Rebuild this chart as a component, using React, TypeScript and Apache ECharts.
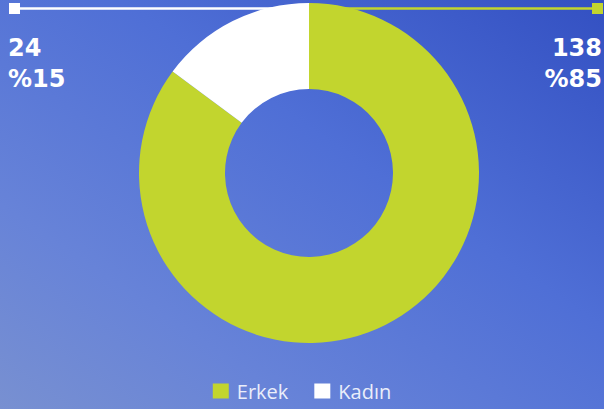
import React, { useEffect, useRef } from "react";
import * as echarts from "echarts";

const categories = ["Erkek", "Kadın"];
const values = [138, 24];
const colors = ["#c2d52e", "#ffffff"];

export default function App() {
  const ref = useRef<HTMLDivElement>(null);
  useEffect(() => {
    document.body.style.margin = "0";
    const chart = echarts.init(ref.current!, null, { renderer: "svg" });
    chart.setOption({
      animation: false,
      backgroundColor: {
        type: "linear",
        x: 1,
        y: 0,
        x2: 0,
        y2: 1,
        colorStops: [
          { offset: 0, color: "#3350c2" },
          { offset: 0.4, color: "#4f6fd6" },
          { offset: 0.75, color: "#6783d8" },
          { offset: 1, color: "#7890d1" },
        ],
      },
      legend: {
        top: 376,
        left: "center",
        icon: "rect",
        itemWidth: 16,
        itemHeight: 15,
        itemGap: 26,
        data: categories,
        textStyle: {
          color: "#eaeefa",
          fontSize: 20,
          lineHeight: 20,
          fontFamily: "Open Sans",
          fontWeight: 400,
          padding: [0, 0, 0, 3],
        },
      },
      graphic: [
        { type: "rect", shape: { x: 9, y: 3, width: 11, height: 11 }, style: { fill: colors[1] }, z: 10 },
        { type: "rect", shape: { x: 592, y: 3, width: 11, height: 11 }, style: { fill: colors[0] }, z: 10 },
      ],
      series: [
        {
          type: "pie",
          center: [309, 173],
          radius: [84, 170],
          startAngle: 90,
          clockwise: true,
          percentPrecision: 0,
          data: categories.map((c, i) => ({
            name: c,
            value: values[i],
            itemStyle: { color: colors[i] },
            labelLine: { lineStyle: { color: colors[i], width: 2.5 } },
          })),
          label: {
            show: true,
            formatter: "{c}\n%{d}",
            color: "#ffffff",
            fontFamily: "DejaVu Sans",
            fontWeight: "bold",
            fontSize: 24,
            lineHeight: 31,
          },
          labelLine: { show: true, lineStyle: { width: 2.5 } },
          labelLayout: (params: any) => {
            if (params.dataIndex === 0) {
              return {
                x: 602,
                y: 32,
                align: "right",
                verticalAlign: "top",
                labelLinePoints: [
                  [309, 8.5],
                  [450, 8.5],
                  [597, 8.5],
                ],
              };
            }
            return {
              x: 8,
              y: 32,
              align: "left",
              verticalAlign: "top",
              labelLinePoints: [
                [309, 8.5],
                [160, 8.5],
                [14, 8.5],
              ],
            };
          },
        },
      ],
    });
    return () => chart.dispose();
  }, []);
  return <div ref={ref} style={{ width: 604, height: 409 }} />;
}
